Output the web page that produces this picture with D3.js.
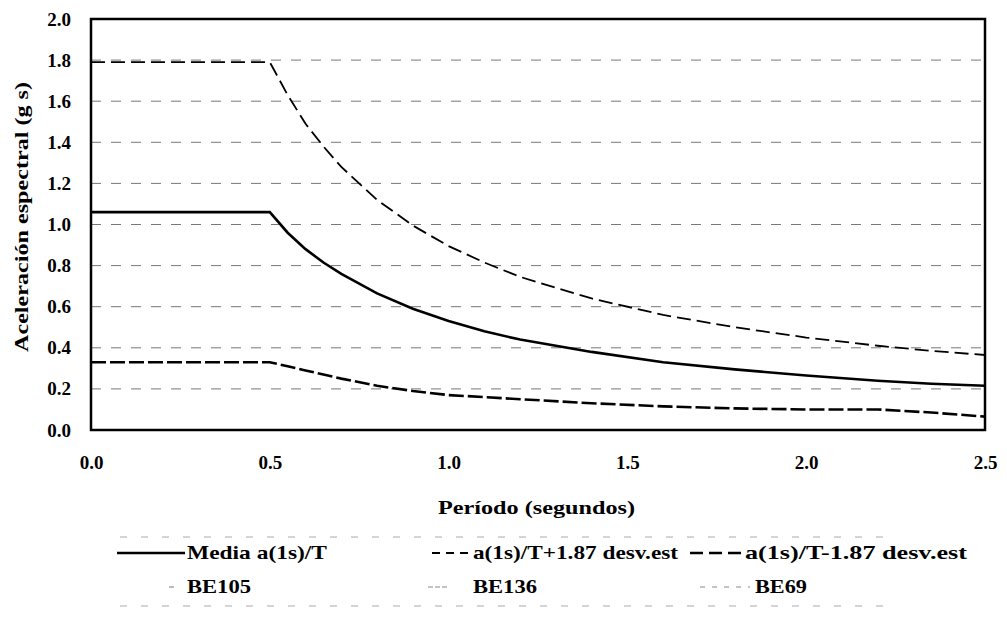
<!DOCTYPE html>
<html>
<head>
<meta charset="utf-8">
<script src="https://cdn.jsdelivr.net/npm/d3@7"></script>
<style>
  body { margin: 0; background: #fff; }
  text { font-family: "Liberation Serif", "DejaVu Serif", "Times New Roman", serif; font-weight: bold; fill: #000; }
</style>
</head>
<body>
<div id="chart"></div>
<script>
// valores
const periodo = [0, 0.5, 0.55, 0.6, 0.65, 0.7, 0.8, 0.9, 1.0, 1.1, 1.2, 1.4, 1.6, 1.8, 2.0, 2.2, 2.35, 2.5];
const media = [1.06, 1.06, 0.96, 0.88, 0.815, 0.76, 0.665, 0.59, 0.53, 0.48, 0.44, 0.38, 0.33, 0.295, 0.265, 0.24, 0.225, 0.215];
const masDesv = [1.79, 1.79, 1.63, 1.49, 1.38, 1.28, 1.12, 0.995, 0.895, 0.815, 0.745, 0.64, 0.56, 0.50, 0.45, 0.41, 0.385, 0.365];
const menosDesv = [0.33, 0.33, 0.31, 0.29, 0.27, 0.25, 0.215, 0.19, 0.17, 0.16, 0.15, 0.13, 0.115, 0.105, 0.10, 0.10, 0.085, 0.065];
const xTicks = [0, 0.5, 1.0, 1.5, 2.0, 2.5];
const yTicks = [0, 0.2, 0.4, 0.6, 0.8, 1.0, 1.2, 1.4, 1.6, 1.8, 2.0];
const gridVals = [0.2, 0.4, 0.6, 0.8, 1.0, 1.2, 1.4, 1.6, 1.8];
const nombres = ["Media a(1s)/T", "a(1s)/T+1.87 desv.est", "a(1s)/T-1.87 desv.est", "BE105", "BE136", "BE69"];

const W = 1007, H = 627;
const margin = { top: 19, right: 22, bottom: 197, left: 91 };
const width = W - margin.left - margin.right;
const height = H - margin.top - margin.bottom;
const fuente = '"Liberation Serif", "DejaVu Serif", serif';

const svg = d3.select("#chart").append("svg")
    .attr("width", W).attr("height", H);
const g = svg.append("g").attr("transform", `translate(${margin.left},${margin.top})`);

const x = d3.scaleLinear().domain([0, 2.5]).range([0, width]);
const y = d3.scaleLinear().domain([0, 2.0]).range([height, 0]);

// lineas de rejilla
g.selectAll(".grid").data(gridVals).enter().append("line")
    .attr("x1", 0).attr("x2", width)
    .attr("y1", d => y(d)).attr("y2", d => y(d))
    .attr("stroke", "#777").attr("stroke-width", 1)
    .attr("stroke-dasharray", "10,10");

// ejes
const yAxis = d3.axisLeft(y).tickValues(yTicks).tickSize(0).tickPadding(20)
    .tickFormat(d3.format(".1f"));
const xAxis = d3.axisBottom(x).tickValues(xTicks).tickSize(0).tickPadding(26)
    .tickFormat(d3.format(".1f"));
g.append("g").call(yAxis).call(a => a.select(".domain").remove())
    .selectAll("text").style("font-size", "19px").style("font-family", fuente).style("font-weight", "bold");
g.append("g").attr("transform", `translate(0,${height})`).call(xAxis)
    .call(a => a.select(".domain").remove())
    .selectAll("text").style("font-size", "19px").style("font-family", fuente).style("font-weight", "bold");

// series
const serie = vals => periodo.map((p, i) => [p, vals[i]]);
const line = d3.line().x(d => x(d[0])).y(d => y(d[1]));

g.append("path").datum(serie(masDesv)).attr("d", line)
    .attr("fill", "none").attr("stroke", "#000").attr("stroke-width", 1.8)
    .attr("stroke-dasharray", "14,6");
g.append("path").datum(serie(menosDesv)).attr("d", line)
    .attr("fill", "none").attr("stroke", "#000").attr("stroke-width", 2.6)
    .attr("stroke-dasharray", "15,4");
g.append("path").datum(serie(media)).attr("d", line)
    .attr("fill", "none").attr("stroke", "#000").attr("stroke-width", 2.6);

// marco
g.append("rect").attr("x", 0).attr("y", 0).attr("width", width).attr("height", height)
    .attr("fill", "none").attr("stroke", "#000").attr("stroke-width", 2.5);

// titulos
svg.append("text").attr("x", 438).attr("y", 514)
    .attr("textLength", 197).attr("lengthAdjust", "spacingAndGlyphs")
    .style("font-size", "18px")
    .text("Período (segundos)");
svg.append("text")
    .attr("transform", `translate(28,352) rotate(-90)`)
    .attr("textLength", 270).attr("lengthAdjust", "spacingAndGlyphs")
    .style("font-size", "18px")
    .text("Aceleración espectral (g s)");

// leyenda
const leg = svg.append("g");
[537, 606].forEach(yy => {
  leg.append("line").attr("x1", 120).attr("x2", 885).attr("y1", yy).attr("y2", yy)
      .attr("stroke", "#aaa").attr("stroke-width", 1).attr("stroke-dasharray", "7,14");
});
const items = [
  { x1: 117, x2: 185, y: 553, w: 2.6, dash: null, col: "#000", tx: 187, len: 140 },
  { x1: 432, x2: 470, y: 553, w: 2.2, dash: "8,6", col: "#000", tx: 473, len: 205 },
  { x1: 690, x2: 742, y: 553, w: 2.6, dash: "13,6", col: "#000", tx: 745, len: 222 },
  { x1: 169, x2: 174, y: 587, w: 1, dash: null, col: "#777", tx: 187, len: 64 },
  { x1: 428, x2: 447, y: 587, w: 1, dash: "5,2", col: "#888", tx: 473, len: 64 },
  { x1: 700, x2: 750, y: 587, w: 1, dash: "5,7", col: "#888", tx: 755, len: 52 }
];
items.forEach((it, i) => {
  leg.append("line").attr("x1", it.x1).attr("x2", it.x2).attr("y1", it.y).attr("y2", it.y)
      .attr("stroke", it.col).attr("stroke-width", it.w)
      .attr("stroke-dasharray", it.dash);
  leg.append("text").attr("x", it.tx).attr("y", it.y + 6)
      .attr("textLength", it.len).attr("lengthAdjust", "spacingAndGlyphs")
      .style("font-size", "19px").text(nombres[i]);
});
</script>
</body>
</html>
